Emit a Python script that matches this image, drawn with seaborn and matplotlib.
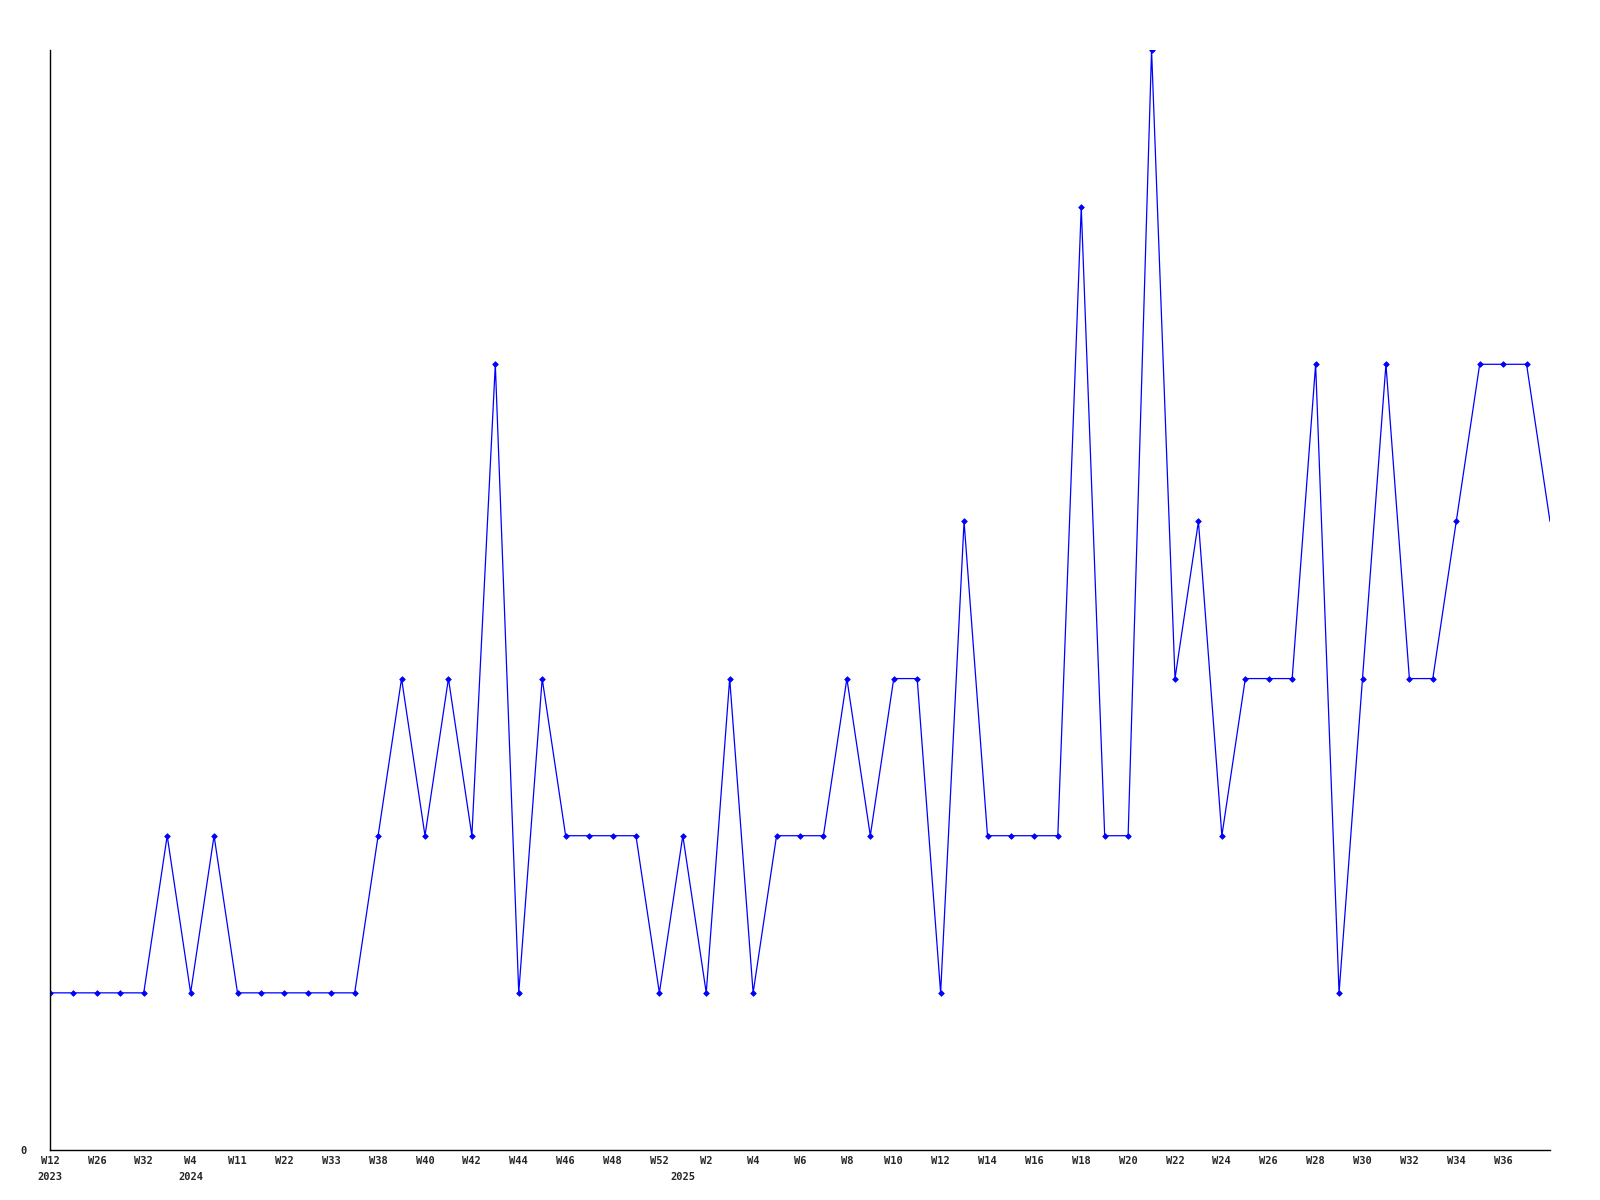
import matplotlib
matplotlib.use("Agg")
import matplotlib.pyplot as plt
import pandas as pd
import seaborn as sns

# week number and year for each point (odd, unlabelled weeks are estimates)
weeks = [12, 20, 26, 29, 32, 45, 4, 8, 11, 17, 22, 28, 33, 36,
         38, 39, 40, 41, 42, 43, 44, 45, 46, 47, 48, 50, 52] + list(range(1, 39))
years = [2023] * 6 + [2024] * 21 + [2025] * 38
counts = [1, 1, 1, 1, 1, 2, 1, 2, 1, 1, 1, 1, 1, 1,
          2, 3, 2, 3, 2, 5, 1, 3, 2, 2, 2, 2, 1,
          2, 1, 3, 1, 2, 2, 2, 3, 2, 3, 3, 1, 4, 2, 2, 2, 2,
          6, 2, 2, 7, 3, 4, 2, 3, 3, 3, 5, 1, 3, 5, 3, 3, 4,
          5, 5, 5, 4]

df = pd.DataFrame({"idx": range(len(counts)), "count": counts})

sns.set_style("white")
plt.rcParams["font.family"] = ["DejaVu Sans Mono"]

fig = plt.figure(figsize=(16, 12), dpi=100)
ax = fig.add_axes([50 / 1600, 50 / 1200, 1500 / 1600, 1100 / 1200])

sns.lineplot(data=df, x="idx", y="count", ax=ax, color="#0000ff", linewidth=0.9)
sns.scatterplot(data=df.iloc[:-1], x="idx", y="count", ax=ax, color="#0000ff",
                marker="D", s=8, linewidth=0.6, edgecolor="#0000ff")

ax.set_xlim(0, len(counts) - 1)
ax.set_ylim(0, 7)

# the last point sits on the right edge and gets no label
labels = []
prev_year = None
for i, (w, y) in enumerate(zip(weeks, years)):
    top = f"W{w}" if i % 2 == 0 and i < len(weeks) - 1 else ""
    bottom = str(y) if y != prev_year else ""
    prev_year = y
    labels.append(f"{top}\n{bottom}" if bottom else top)
ax.set_xticks(range(len(counts)))
ax.set_xticklabels(labels, fontsize=7.5, fontweight="bold", linespacing=1.75,
                   va="top")
ax.set_yticks([0])
ax.set_yticklabels(["0"], fontsize=7.5, fontweight="bold")
ax.tick_params(axis="both", length=0)
ax.tick_params(axis="x", pad=4)
ax.tick_params(axis="y", pad=17)
ax.set_xlabel("")
ax.set_ylabel("")

for side in ["top", "right"]:
    ax.spines[side].set_visible(False)
for side in ["left", "bottom"]:
    ax.spines[side].set_color("black")
    ax.spines[side].set_linewidth(1.0)

fig.savefig("out.png", dpi=100, facecolor="white")
